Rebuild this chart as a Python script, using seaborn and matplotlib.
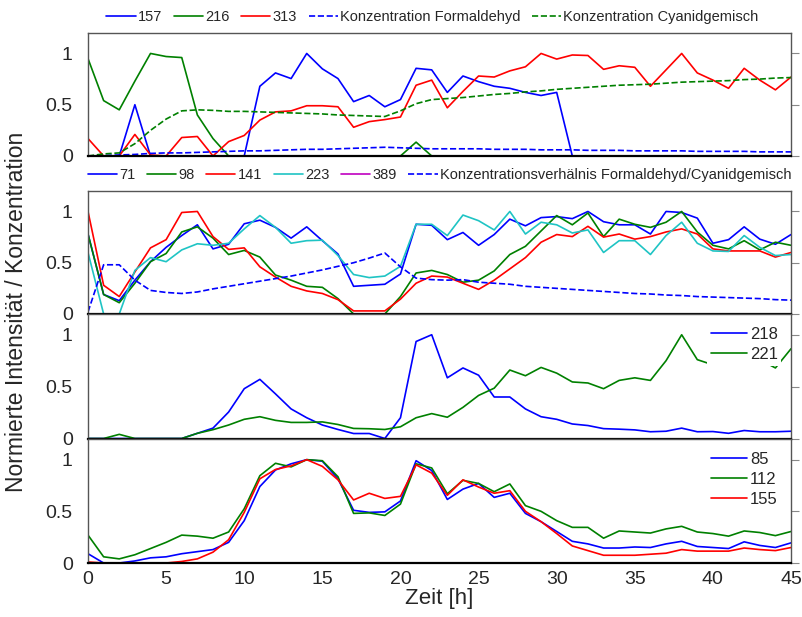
import numpy as np
import pandas as pd
import matplotlib
matplotlib.use('Agg')
import matplotlib.pyplot as plt
import seaborn as sns

sns.set_style('white')
plt.rcParams['font.family'] = ['Liberation Sans', 'DejaVu Sans']

# Zeit in Stunden
zeit = list(range(46))

# Panel 1
m157 = [0, 0, 0, 0.5, 0, 0, 0, 0, 0, 0,
        0, 0.68, 0.81, 0.755, 1.0, 0.85, 0.755, 0.53, 0.59, 0.48,
        0.55, 0.855, 0.84, 0.62, 0.78, 0.725, 0.68, 0.66, 0.62, 0.59,
        0.62, 0, 0, 0, 0, 0, 0, 0, 0, 0,
        0, 0, 0, 0, 0, 0]
m216 = [0.95, 0.54, 0.45, 0.73, 1.0, 0.97, 0.96, 0.40, 0.17, 0,
        0, 0, 0, 0, 0, 0, 0, 0, 0, 0,
        0, 0.135, 0, 0, 0, 0, 0, 0, 0, 0,
        0, 0, 0, 0, 0, 0, 0, 0, 0, 0,
        0, 0, 0, 0, 0, 0]
m313 = [0.17, 0, 0, 0.21, 0.01, 0, 0.18, 0.19, 0, 0.14,
        0.20, 0.35, 0.43, 0.44, 0.49, 0.49, 0.48, 0.28, 0.335, 0.355,
        0.38, 0.69, 0.74, 0.47, 0.63, 0.78, 0.77, 0.83, 0.87, 1.0,
        0.945, 0.985, 0.98, 0.845, 0.88, 0.865, 0.68, 0.84, 1.0, 0.81,
        0.74, 0.66, 0.855, 0.74, 0.645, 0.77]
konz_form = [0.0, 0.005, 0.01, 0.015, 0.025, 0.03, 0.03, 0.035, 0.04, 0.045,
             0.05, 0.05, 0.055, 0.06, 0.065, 0.065, 0.07, 0.075, 0.08, 0.085,
             0.08, 0.075, 0.07, 0.07, 0.07, 0.07, 0.065, 0.065, 0.065, 0.06,
             0.06, 0.06, 0.055, 0.055, 0.055, 0.05, 0.05, 0.05, 0.05, 0.045,
             0.045, 0.045, 0.045, 0.04, 0.04, 0.04]
konz_cyan = [0.0, 0.02, 0.03, 0.12, 0.25, 0.36, 0.44, 0.45, 0.445, 0.435,
             0.435, 0.43, 0.425, 0.42, 0.415, 0.41, 0.40, 0.395, 0.39, 0.385,
             0.44, 0.51, 0.55, 0.56, 0.57, 0.585, 0.60, 0.61, 0.625, 0.635,
             0.65, 0.66, 0.67, 0.68, 0.69, 0.695, 0.70, 0.71, 0.72, 0.725,
             0.73, 0.735, 0.745, 0.75, 0.76, 0.765]

# Panel 2
m71 = [0.78, 0.19, 0.13, 0.33, 0.51, 0.65, 0.765, 0.87, 0.635, 0.68,
       0.88, 0.915, 0.845, 0.74, 0.85, 0.715, 0.585, 0.27, 0.28, 0.29,
       0.39, 0.875, 0.865, 0.725, 0.795, 0.67, 0.775, 0.925, 0.86, 0.94,
       0.95, 0.93, 1.0, 0.90, 0.87, 0.87, 0.78, 1.0, 0.99, 0.935,
       0.69, 0.725, 0.85, 0.73, 0.68, 0.775]
m98 = [0.78, 0.19, 0.11, 0.3, 0.51, 0.59, 0.80, 0.85, 0.74, 0.58,
       0.62, 0.555, 0.38, 0.33, 0.27, 0.26, 0.15, 0.0, 0.0, 0.0,
       0.17, 0.40, 0.425, 0.385, 0.31, 0.33, 0.42, 0.58, 0.66, 0.81,
       0.96, 0.87, 0.985, 0.755, 0.925, 0.875, 0.845, 0.895, 1.0, 0.8,
       0.67, 0.635, 0.715, 0.625, 0.70, 0.67]
m141 = [1.0, 0.28, 0.17, 0.41, 0.645, 0.725, 0.99, 1.0, 0.755, 0.63,
        0.645, 0.46, 0.36, 0.27, 0.225, 0.2, 0.14, 0.03, 0.03, 0.03,
        0.145, 0.30, 0.37, 0.36, 0.30, 0.24, 0.33, 0.44, 0.55, 0.70,
        0.775, 0.755, 0.855, 0.75, 0.78, 0.73, 0.755, 0.80, 0.83, 0.78,
        0.635, 0.615, 0.615, 0.615, 0.555, 0.60]
m223 = [0.6, 0.0, 0.0, 0.425, 0.55, 0.51, 0.625, 0.685, 0.67, 0.69,
        0.83, 0.96, 0.845, 0.69, 0.715, 0.72, 0.57, 0.385, 0.355, 0.37,
        0.465, 0.875, 0.875, 0.765, 0.965, 0.91, 0.82, 1.0, 0.78, 0.895,
        0.87, 0.79, 0.82, 0.6, 0.715, 0.715, 0.58, 0.765, 0.895, 0.69,
        0.615, 0.61, 0.765, 0.65, 0.57, 0.58]
m389 = [0.0] * 46
verhaeltnis = [0.02, 0.48, 0.48, 0.33, 0.23, 0.21, 0.2, 0.215, 0.245, 0.27,
               0.295, 0.32, 0.345, 0.37, 0.40, 0.43, 0.465, 0.5, 0.545, 0.595,
               0.46, 0.35, 0.335, 0.33, 0.335, 0.31, 0.30, 0.29, 0.27, 0.26,
               0.25, 0.24, 0.23, 0.22, 0.21, 0.2, 0.195, 0.185, 0.18, 0.17,
               0.165, 0.16, 0.155, 0.15, 0.14, 0.135]

# Panel 3
m218 = [0, 0, 0, 0, 0, 0, 0, 0.05, 0.1, 0.255,
        0.48, 0.57, 0.43, 0.285, 0.2, 0.13, 0.087, 0.048, 0.048, 0.0,
        0.2, 0.935, 1.0, 0.585, 0.68, 0.61, 0.40, 0.40, 0.285, 0.21,
        0.185, 0.14, 0.125, 0.095, 0.09, 0.083, 0.065, 0.07, 0.1, 0.065,
        0.067, 0.05, 0.077, 0.065, 0.065, 0.07]
m221 = [0, 0, 0.04, 0, 0, 0, 0, 0.05, 0.085, 0.13,
        0.185, 0.21, 0.175, 0.155, 0.155, 0.16, 0.135, 0.097, 0.094, 0.087,
        0.113, 0.2, 0.24, 0.205, 0.3, 0.415, 0.485, 0.66, 0.605, 0.685,
        0.63, 0.545, 0.535, 0.48, 0.56, 0.585, 0.56, 0.75, 1.0, 0.76,
        0.71, 0.73, 0.72, 0.76, 0.68, 0.865]

# Panel 4
m85 = [0.09, 0, 0, 0.02, 0.05, 0.06, 0.09, 0.11, 0.13, 0.2,
       0.41, 0.74, 0.9, 0.96, 1.0, 0.985, 0.815, 0.51, 0.49, 0.495,
       0.6, 0.99, 0.895, 0.615, 0.715, 0.77, 0.635, 0.675, 0.48, 0.4,
       0.305, 0.21, 0.185, 0.145, 0.145, 0.155, 0.15, 0.185, 0.21, 0.16,
       0.15, 0.14, 0.205, 0.17, 0.15, 0.195]
m112 = [0.27, 0.06, 0.04, 0.08, 0.14, 0.2, 0.27, 0.26, 0.24, 0.3,
        0.525, 0.845, 0.965, 0.93, 1.0, 0.99, 0.835, 0.48, 0.485, 0.46,
        0.57, 0.96, 0.92, 0.67, 0.8, 0.77, 0.69, 0.765, 0.555, 0.5,
        0.41, 0.345, 0.345, 0.24, 0.31, 0.3, 0.29, 0.33, 0.355, 0.3,
        0.285, 0.26, 0.31, 0.295, 0.265, 0.305]
m155 = [0.01, 0, 0, 0, 0, 0, 0.015, 0.04, 0.105, 0.225,
        0.49, 0.815, 0.905, 0.94, 1.0, 0.935, 0.805, 0.61, 0.675, 0.625,
        0.645, 0.95, 0.87, 0.655, 0.805, 0.735, 0.675, 0.7, 0.5, 0.4,
        0.285, 0.165, 0.12, 0.075, 0.075, 0.075, 0.085, 0.095, 0.13, 0.115,
        0.115, 0.115, 0.145, 0.13, 0.12, 0.15]

BLAU = '#0000ff'
GRUEN = '#008000'
ROT = '#ff0000'
CYAN = '#1fc4c4'
MAGENTA = '#c000c0'

fig = plt.figure(figsize=(8.03, 6.17), dpi=100)
links, breite = 0.1096, 0.8755
ax1 = fig.add_axes([links, 0.7472, breite, 0.1994])
ax2 = fig.add_axes([links, 0.4911, breite, 0.1994])
ax3 = fig.add_axes([links, 0.2893, breite, 0.2018])
ax4 = fig.add_axes([links, 0.0875, breite, 0.2010])


def linie(ax, werte, farbe, name, ls='-'):
    sns.lineplot(x=zeit, y=werte, ax=ax, color=farbe, lw=1.2,
                 linestyle=ls, label=name)


linie(ax1, m157, BLAU, '157')
linie(ax1, m216, GRUEN, '216')
linie(ax1, m313, ROT, '313')
linie(ax1, konz_form, BLAU, 'Konzentration Formaldehyd', '--')
linie(ax1, konz_cyan, GRUEN, 'Konzentration Cyanidgemisch', '--')

linie(ax2, m71, BLAU, '71')
linie(ax2, m98, GRUEN, '98')
linie(ax2, m141, ROT, '141')
linie(ax2, m223, CYAN, '223')
linie(ax2, m389, MAGENTA, '389')
linie(ax2, verhaeltnis, BLAU, 'Konzentrationsverhälnis Formaldehyd/Cyanidgemisch', '--')

linie(ax3, m218, BLAU, '218')
linie(ax3, m221, GRUEN, '221')

linie(ax4, m85, BLAU, '85')
linie(ax4, m112, GRUEN, '112')
linie(ax4, m155, ROT, '155')

for ax in [ax1, ax2, ax3, ax4]:
    ax.set_xlim(0, 45)
    ax.set_ylim(0, 1.2)
    ax.set_yticks([0, 0.5, 1])
    ax.set_yticklabels(['0', '0.5', '1'])
    ax.set_xticks(range(0, 46, 5))
    ax.set_xlabel('')
    ax.set_ylabel('')
    ax.tick_params(axis='x', direction='in', length=6, width=1, color='#333333',
                   labelbottom=False, labelsize=14)
    ax.tick_params(axis='y', left=False, right=True, direction='out', length=6,
                   color='#888888', labelleft=True, labelright=False,
                   labelsize=14, pad=5)
    for s in ['left', 'top', 'right']:
        ax.spines[s].set_color('#555555')
        ax.spines[s].set_linewidth(1)
    ax.spines['bottom'].set_color('black')
    ax.spines['bottom'].set_linewidth(1.6)
    ax.set_facecolor('white')

ax4.tick_params(axis='x', labelbottom=True, pad=6)
ax4.set_xlabel('Zeit [h]', fontsize=16, labelpad=0)

leg_opts = dict(frameon=False, fontsize=10.5, handlelength=2.0,
                handletextpad=0.15, columnspacing=0.8, borderpad=0.1)
ax1.legend(loc='lower center', bbox_to_anchor=(0.49, 1.0), ncol=5, **leg_opts)
ax2.legend(loc='lower center', bbox_to_anchor=(0.5, 1.0), ncol=6, **leg_opts)
for ax in [ax3, ax4]:
    lg = ax.legend(loc='upper right', fontsize=12, handlelength=2.2,
                   handletextpad=0.15, borderpad=0.2, labelspacing=0.3,
                   borderaxespad=0.6, frameon=True, framealpha=1)
    lg.get_frame().set_edgecolor('white')
    lg.get_frame().set_linewidth(0)
    lg.get_frame().set_boxstyle('square', pad=0)

fig.text(0.021, 0.494, 'Normierte Intensität / Konzentration', rotation=90,
         ha='center', va='center', fontsize=16.5)

plt.savefig('out.png', dpi=100)
